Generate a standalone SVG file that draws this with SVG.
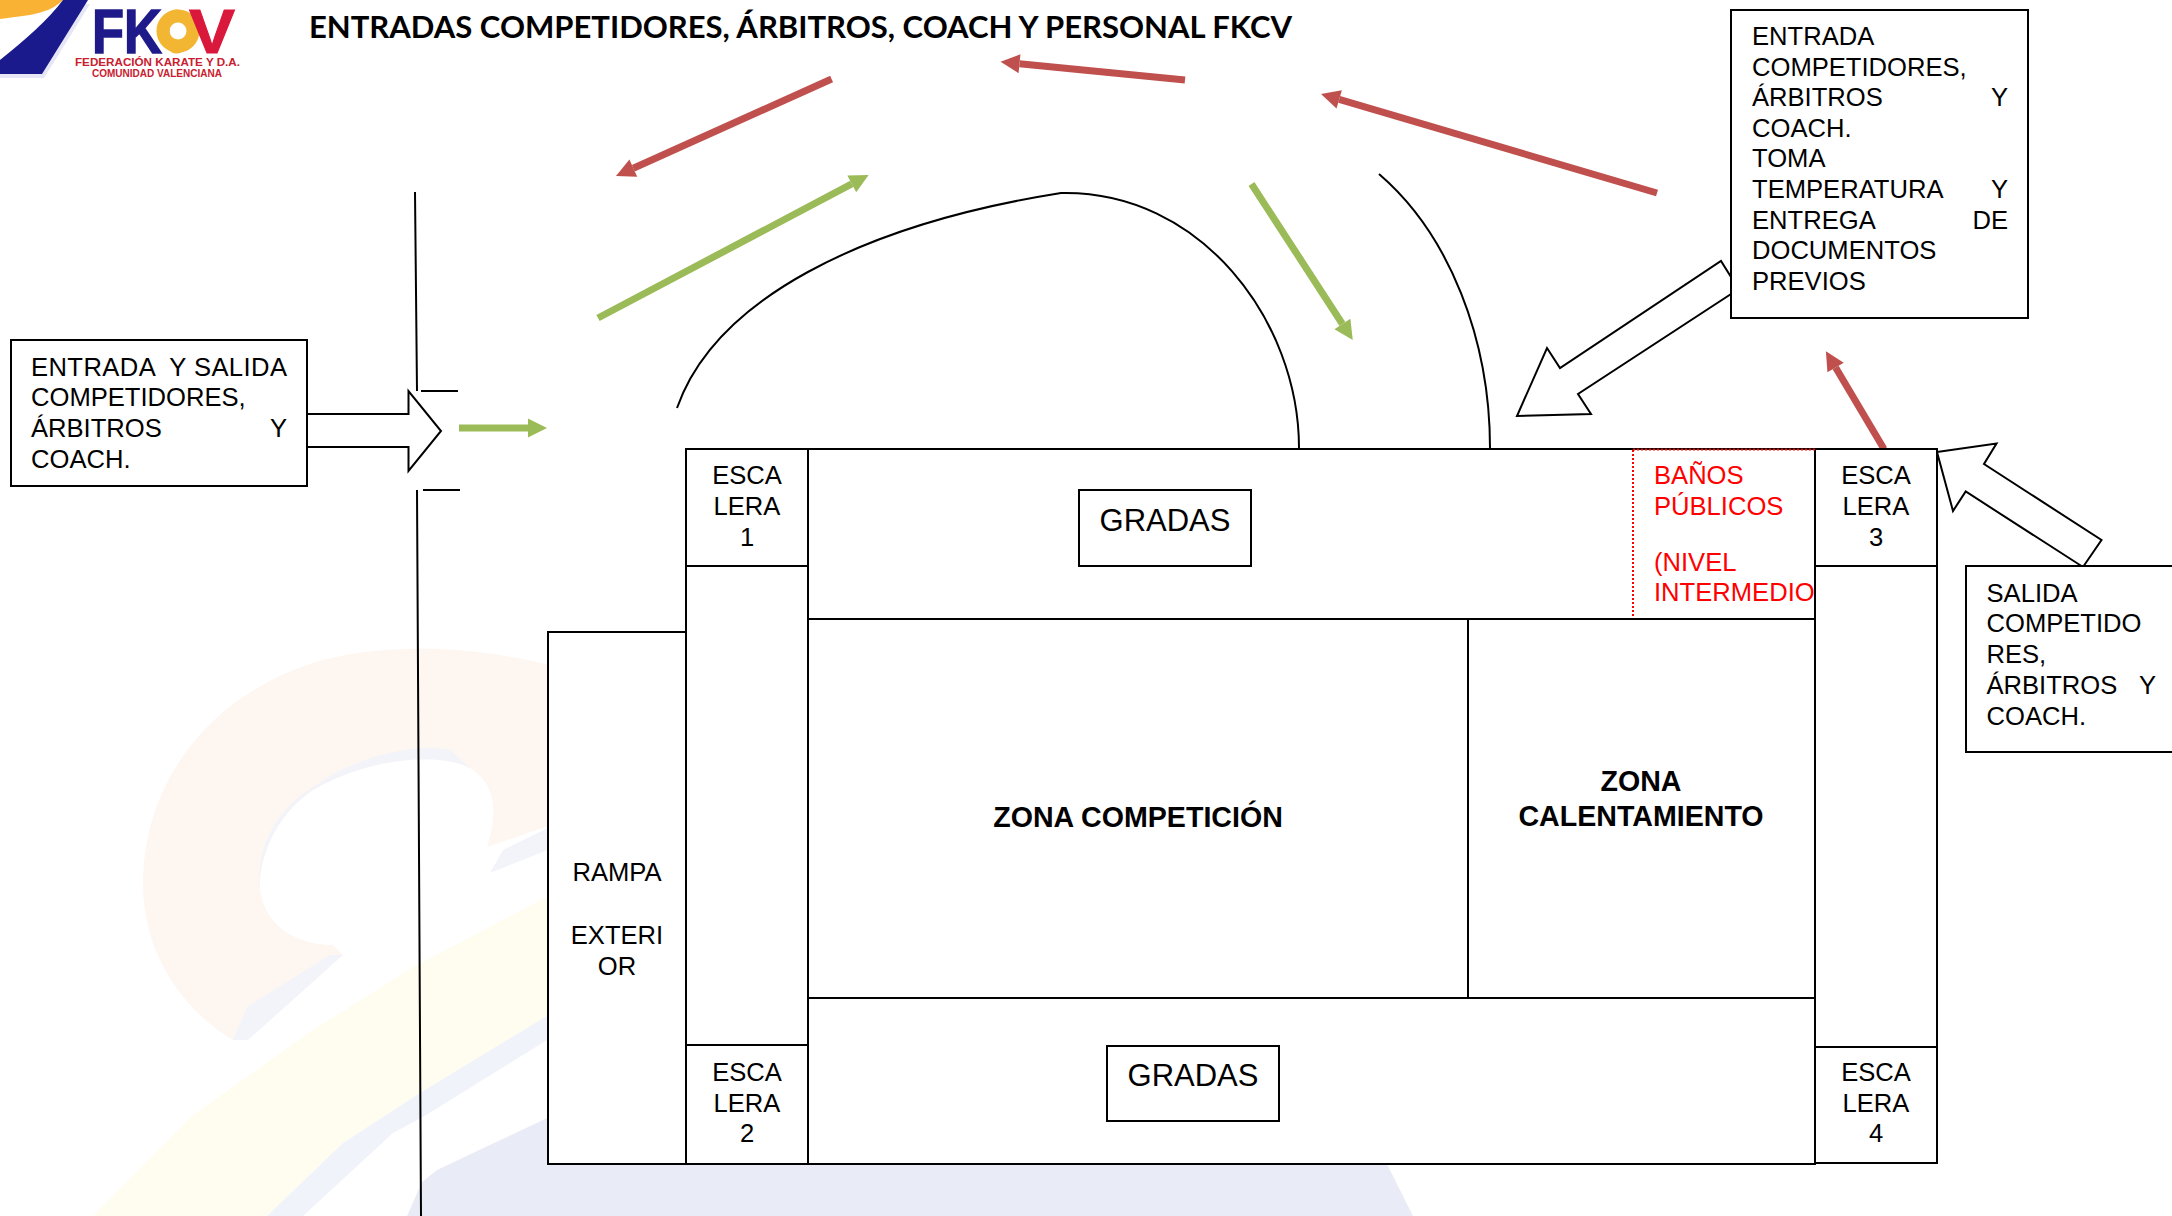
<svg xmlns="http://www.w3.org/2000/svg" width="2172" height="1216" viewBox="0 0 2172 1216">
<style>
text{font-family:"Liberation Sans",Arial,sans-serif;font-size:25.6px;fill:#000}
.c{text-anchor:middle}
.e{text-anchor:end}
.b{font-weight:700;font-size:28.6px}
.g{font-size:31px}
.r{fill:#f00}
.box{fill:#fff;stroke:#000;stroke-width:2}
.wall{fill:none;stroke:#000;stroke-width:2}
.red{fill:none;stroke:#C0504D;stroke-width:7;marker-end:url(#mr)}
.grn{fill:none;stroke:#9BBB59;stroke-width:7;marker-end:url(#mg)}
.blk{fill:#fff;stroke:#000;stroke-width:2;stroke-linejoin:miter}
</style>
<defs>
<marker id="mr" markerUnits="userSpaceOnUse" markerWidth="20" markerHeight="20" refX="0" refY="9.5" orient="auto" overflow="visible"><path d="M0 0L19 9.5L0 19z" fill="#C0504D"/></marker>
<marker id="mg" markerUnits="userSpaceOnUse" markerWidth="20" markerHeight="20" refX="0" refY="9.5" orient="auto" overflow="visible"><path d="M0 0L19 9.5L0 19z" fill="#9BBB59"/></marker>
</defs>
<rect width="2172" height="1216" fill="#fff"/>
<g id="watermark">
<path d="M233 1040C175 1005 143 945 143 885C143 790 200 700 313 663C380 642 480 645 560 668V822L487 847C498 815 497 785 470 768C440 752 370 757 313 790C275 815 258 860 260 890C265 925 295 945 333 945L343 955z" fill="#fef6f0"/>
<path d="M260 890C255 850 275 810 313 787C350 760 410 742 450 750L470 768C440 752 370 757 313 790C275 815 258 860 260 890z M233 1040L247 1007L330 955H343L248 1040z M490 873L503 850L560 822V845z" fill="#f2f4fa"/>
<path d="M93 1216L193 1115L313 1030L413 967L560 890V1008L420 1093L343 1143L267 1216z" fill="#fffdf0"/>
<path d="M267 1216L343 1143L420 1093L560 1008V1032L423 1117L393 1133L303 1216z" fill="#f1f3fa"/>
<path d="M407 1216L422 1182L437 1170L560 1112V1160H1385L1413 1216z" fill="#e9ecf6"/>
</g>
<g id="logo">
<path d="M0 0H63C55 8 45 12 30 15L0 19z" fill="#f9b233"/>
<path d="M0 60V78H44L90 4L70 4z" fill="#e6e6f6"/>
<path d="M63 0H88L42 74H0V60C25 40 48 20 63 0z" fill="#1a1a8c"/>
<circle cx="178" cy="31" r="15" fill="none" stroke="#f2b632" stroke-width="13"/>
<text x="92" y="53" textLength="70" lengthAdjust="spacingAndGlyphs" stroke="#1f1a8a" stroke-width="1.500" style="font-size:63px;font-weight:700;fill:#1f1a8a">FK</text>
<text x="163" y="53" textLength="26" lengthAdjust="spacingAndGlyphs" style="font-size:63px;font-weight:700;fill:#f2b632">C</text>
<text x="189" y="53" textLength="46" lengthAdjust="spacingAndGlyphs" stroke="#d9183b" stroke-width="1" style="font-size:63px;font-weight:700;fill:#d9183b">V</text>
<text x="75" y="66" textLength="165" lengthAdjust="spacingAndGlyphs" style="font-size:10px;font-weight:700;fill:#c8202f">FEDERACIÓN KARATE Y D.A.</text>
<text x="92" y="77" textLength="130" lengthAdjust="spacingAndGlyphs" style="font-size:10px;font-weight:700;fill:#c8202f">COMUNIDAD VALENCIANA</text>
</g>
<text id="title" x="309" y="38" textLength="983" lengthAdjust="spacingAndGlyphs" style="font-family:Lato,'Liberation Sans',sans-serif;font-weight:700;font-size:31px">ENTRADAS COMPETIDORES, ÁRBITROS, COACH Y PERSONAL FKCV</text>
<g id="walls">
<path class="wall" d="M415 192L417 391M421 391H458M417 490L421 1216M423 490H460"/>
<path class="wall" d="M677 408C715 300 860 225 1061 193C1200 190 1299 320 1299 448"/>
<path class="wall" d="M1379 174C1450 235 1490 340 1490 448"/>
</g>
<g id="connectors">
<path class="blk" d="M307 414H408.500V391L441 431L408.500 471V447H307z"/>
<path class="blk" d="M1731 277L1721 261L1560 368L1547 348L1517 416L1591 414L1578 394L1731 294z"/>
<path class="blk" d="M1937 452L1996.500 443.600L1984 464L2101.500 540L2083 567L1965.700 491.500L1953 511z"/>
<path class="red" d="M831.600 79L633.300 168.200"/>
<path class="red" d="M1185 80L1019.500 63.700"/>
<path class="red" d="M1657 193L1339.200 99.400"/>
<path class="red" d="M1884 449L1835.600 367.500"/>
<path class="grn" d="M598 318L851.800 183.900"/>
<path class="grn" d="M1251.500 184L1342.400 324"/>
<path class="grn" d="M459 428H528"/>
</g>
<g id="rampa"><rect class="box" x="548" y="632" width="138" height="532"/>
<text class="c" x="617" y="881">RAMPA</text><text class="c" x="617" y="944">EXTERI</text><text class="c" x="617" y="975">OR</text></g>
<g id="pasillo-izq"><rect class="box" x="686" y="566" width="122" height="479"/></g>
<g id="pasillo-der"><rect class="box" x="1815" y="566" width="122" height="481"/></g>
<g id="gradas-sup"><rect class="box" x="808" y="449" width="1007" height="170"/></g>
<g id="gradas-inf"><rect class="box" x="808" y="998" width="1007" height="166"/></g>
<g id="escalera-1"><rect class="box" x="686" y="449" width="122" height="117"/>
<text class="c" x="747" y="484">ESCA</text><text class="c" x="747" y="515">LERA</text><text class="c" x="747" y="546">1</text></g>
<g id="escalera-2"><rect class="box" x="686" y="1045" width="122" height="119"/>
<text class="c" x="747" y="1081">ESCA</text><text class="c" x="747" y="1112">LERA</text><text class="c" x="747" y="1142">2</text></g>
<g id="escalera-3"><rect class="box" x="1815" y="449" width="122" height="117"/>
<text class="c" x="1876" y="484">ESCA</text><text class="c" x="1876" y="515">LERA</text><text class="c" x="1876" y="546">3</text></g>
<g id="escalera-4"><rect class="box" x="1815" y="1047" width="122" height="116"/>
<text class="c" x="1876" y="1081">ESCA</text><text class="c" x="1876" y="1112">LERA</text><text class="c" x="1876" y="1142">4</text></g>
<g id="banos"><path d="M1633 450V619M1633 449.500H1815" fill="none" stroke="#f00" stroke-width="2" stroke-dasharray="2 2"/>
<text class="r" x="1654" y="484">BAÑOS</text><text class="r" x="1654" y="515">PÚBLICOS</text><text class="r" x="1654" y="571">(NIVEL</text><text class="r" x="1654" y="601">INTERMEDIO</text></g>
<g id="gradas-1"><rect class="box" x="1079" y="490" width="172" height="76"/><text class="c g" x="1165" y="531">GRADAS</text></g>
<g id="gradas-2"><rect class="box" x="1107" y="1046" width="172" height="75"/><text class="c g" x="1193" y="1086">GRADAS</text></g>
<g id="zona-competicion"><rect class="box" x="808" y="619" width="660" height="379"/><text class="c b" x="1138" y="827">ZONA COMPETICIÓN</text></g>
<g id="zona-calentamiento"><rect class="box" x="1468" y="619" width="347" height="379"/><text class="c b" x="1641" y="791">ZONA</text><text class="c b" x="1641" y="826">CALENTAMIENTO</text></g>
<g id="entrada-salida"><rect class="box" x="11" y="340" width="296" height="146"/>
<text x="31" y="376" xml:space="preserve" textLength="256">ENTRADA  Y SALIDA</text><text x="31" y="406">COMPETIDORES,</text><text x="31" y="437">ÁRBITROS</text><text class="e" x="287" y="437">Y</text><text x="31" y="468">COACH.</text></g>
<g id="entrada-derecha"><rect class="box" x="1731" y="10" width="297" height="308"/>
<text x="1752" y="45">ENTRADA</text><text x="1752" y="76">COMPETIDORES,</text><text x="1752" y="106">ÁRBITROS</text><text class="e" x="2008" y="106">Y</text><text x="1752" y="137">COACH.</text><text x="1752" y="167">TOMA</text><text x="1752" y="198">TEMPERATURA</text><text class="e" x="2008" y="198">Y</text><text x="1752" y="229">ENTREGA</text><text class="e" x="2008" y="229">DE</text><text x="1752" y="259">DOCUMENTOS</text><text x="1752" y="290">PREVIOS</text></g>
<g id="salida"><rect class="box" x="1966" y="566" width="220" height="186"/>
<text x="1986.500" y="602">SALIDA</text><text x="1986.500" y="632">COMPETIDO</text><text x="1986.500" y="663">RES,</text><text x="1986.500" y="694">ÁRBITROS</text><text class="e" x="2156" y="694">Y</text><text x="1986.500" y="725">COACH.</text></g>
</svg>
